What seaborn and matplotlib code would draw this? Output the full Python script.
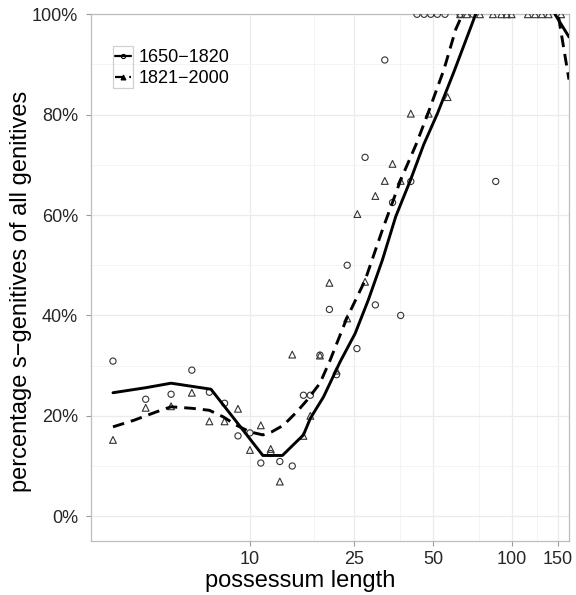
import numpy as np
import pandas as pd
import matplotlib
matplotlib.use("Agg")
import matplotlib.pyplot as plt
import seaborn as sns
from matplotlib.lines import Line2D
from matplotlib.patches import Rectangle
from matplotlib.ticker import FixedLocator, FuncFormatter, NullFormatter

# ---------------- data ----------------
periods = ["1650\u22121820", "1821\u22122000"]

# observed proportions, 1650-1820 (circles)
early_x = [3, 4, 5, 6, 7, 8, 9, 10, 11, 12, 13, 14.5, 16, 17, 18.5, 21.4, 20.1,
           23.5, 25.6, 27.5, 30.1, 32.7, 35, 37.6, 41.1, 86.7,
           43.4, 46.2, 49, 51.9, 55.5, 63.4, 71.1]
early_y = [30.9, 23.3, 24.3, 29.1, 24.7, 22.5, 16.0, 16.6, 10.6, 12.5, 10.9, 10.0,
           24.1, 24.1, 32.1, 28.2, 41.2, 50.0, 33.4, 71.5, 42.1, 90.9, 62.5, 40.0,
           66.7, 66.7, 100, 100, 100, 100, 100, 100, 100]

# observed proportions, 1821-2000 (triangles)
late_x = [3, 4, 5, 6, 7, 8, 9, 10, 11, 12, 13, 14.5, 16, 17, 18.5, 21.4, 20.1,
          23.5, 25.7, 27.5, 30.1, 32.7, 35, 37.6, 41.1, 48.1, 56.8,
          63.4, 67.3, 75.5, 84.6, 91, 95.5, 99.7, 115, 122.5, 130, 138, 154]
late_y = [15.2, 21.6, 21.9, 24.6, 18.9, 18.9, 21.4, 13.2, 18.1, 13.4, 6.9, 32.2,
          16.0, 20.0, 32.0, 29.0, 46.5, 39.4, 60.2, 46.7, 63.8, 66.8, 70.2, 66.8,
          80.2, 80.2, 83.5, 100, 100, 100, 100, 100, 100, 100, 100, 100, 100, 100, 100]

# fitted curves (values above 100% are clipped by the panel)
early_fit_x = [3, 4, 5, 7.1, 11.2, 13.3, 16, 17, 19.1, 22.1, 25.2, 28.3, 32, 36,
               41, 46, 52, 60, 71, 80, 100, 130, 146, 165]
early_fit_y = [24.6, 25.6, 26.5, 25.3, 12.1, 12.1, 16.2, 19.5, 23.8, 30.8, 36.4,
               43.1, 51, 59.7, 67, 74, 80.3, 88.5, 98.6, 106, 112, 108, 100, 95.5]
late_fit_x = [3, 3.6, 4.4, 5, 6, 7, 7.9, 8.9, 10, 11.2, 12.1, 13.4, 15.1, 16.5,
              18.5, 20.2, 23.4, 27.5, 32, 37.6, 43, 48, 55, 61, 66, 100, 140, 150, 165]
late_fit_y = [17.8, 19.1, 20.8, 21.8, 21.5, 21.1, 19.8, 18.1, 16.8, 16.2, 16.8,
              18.1, 20.8, 23.1, 26.5, 31, 39.4, 47, 57, 67, 74, 80.5, 89, 97, 101,
              115, 106, 100, 87]

x_ticks = [10, 25, 50, 100, 150]
x_minor = [17.5, 37.5, 75, 125]
y_ticks = [0, 20, 40, 60, 80, 100]
y_minor = [10, 30, 50, 70, 90]

# ---------------- build frames ----------------
pts = pd.concat([
    pd.DataFrame({"x": early_x, "y": np.array(early_y) / 100, "period": periods[0]}),
    pd.DataFrame({"x": late_x, "y": np.array(late_y) / 100, "period": periods[1]}),
])
fits = pd.concat([
    pd.DataFrame({"x": early_fit_x, "y": np.array(early_fit_y) / 100, "period": periods[0]}),
    pd.DataFrame({"x": late_fit_x, "y": np.array(late_fit_y) / 100, "period": periods[1]}),
])

sns.set_theme(style="white")
plt.rcParams["font.family"] = ["Liberation Sans", "DejaVu Sans"]

fig = plt.figure(figsize=(5.76, 5.95), dpi=100)
ax = fig.add_axes([91.3 / 576, 1 - 541.3 / 595, (569.3 - 91.3) / 576, (541.3 - 14.3) / 595])

ax.set_xscale("log")
ax.set_xlim(2.48, 165.5)
ax.set_ylim(-0.05, 1.0)

# grid
ax.xaxis.set_major_locator(FixedLocator(x_ticks))
ax.xaxis.set_minor_locator(FixedLocator(x_minor))
ax.yaxis.set_major_locator(FixedLocator([v / 100 for v in y_ticks]))
ax.yaxis.set_minor_locator(FixedLocator([v / 100 for v in y_minor]))
ax.xaxis.set_major_formatter(FuncFormatter(lambda v, p: f"{v:g}"))
ax.xaxis.set_minor_formatter(NullFormatter())
ax.yaxis.set_major_formatter(FuncFormatter(lambda v, p: f"{v * 100:.0f}%"))
ax.grid(True, which="major", color="#ebebeb", lw=0.9)
ax.grid(True, which="minor", color="#f4f4f4", lw=0.7)
ax.set_axisbelow(True)

# points
sub = pts[pts.period == periods[0]]
sns.scatterplot(data=sub, x="x", y="y", marker="o", s=20, facecolors="none",
                edgecolors="#333333", linewidths=0.8, ax=ax, legend=False, zorder=3)
sub = pts[pts.period == periods[1]]
sns.scatterplot(data=sub, x="x", y="y", marker="^", s=24, facecolors="none",
                edgecolors="#333333", linewidths=0.8, ax=ax, legend=False, zorder=3)

# fitted lines
sns.lineplot(data=fits, x="x", y="y", style="period", style_order=periods,
             dashes={periods[0]: "", periods[1]: (4, 2.4)}, color="black",
             lw=2.1, estimator=None, sort=False, ax=ax, legend=False, zorder=4)

# axes styling
for s in ax.spines.values():
    s.set_color("#bdbdbd")
    s.set_linewidth(0.9)
ax.tick_params(axis="both", which="major", length=3.6, width=0.8, color="#9a9a9a",
               labelsize=13, labelcolor="#262626", bottom=True, left=True)
ax.tick_params(axis="x", which="major", pad=3.5)
ax.tick_params(axis="y", which="major", pad=6)
ax.tick_params(axis="both", which="minor", length=0)

ax.set_xlabel("possessum length", fontsize=17, color="black")
ax.set_ylabel("percentage s\u2212genitives of all genitives", fontsize=17, color="black")
ax.xaxis.set_label_coords(0.437, -0.0545)
ax.yaxis.set_label_coords(-0.124, 0.474)

# legend
handles = [
    Line2D([], [], color="black", lw=1.6, marker="o", ms=3, mfc="none", mec="black", mew=0.8),
    Line2D([], [], color="black", lw=1.6, marker="^", ms=3.5, mfc="black", mec="black",
           mew=0.8, dashes=(4, 2.4)),
]
leg = ax.legend(handles, periods, loc="center left",
                bbox_to_anchor=(114.5 / 576, 1 - 68.3 / 595), bbox_transform=fig.transFigure,
                frameon=False, fontsize=13, handlelength=0.9, handletextpad=0.45,
                labelspacing=0.2, borderpad=0, borderaxespad=0)
for t in leg.get_texts():
    t.set_color("black")
fig.patches.append(Rectangle((112.7 / 576, 1 - 88 / 595), 20.6 / 576, 42 / 595,
                             transform=fig.transFigure, fill=False,
                             edgecolor="#d0d0d0", lw=0.9))

fig.savefig("out.png", dpi=100)
